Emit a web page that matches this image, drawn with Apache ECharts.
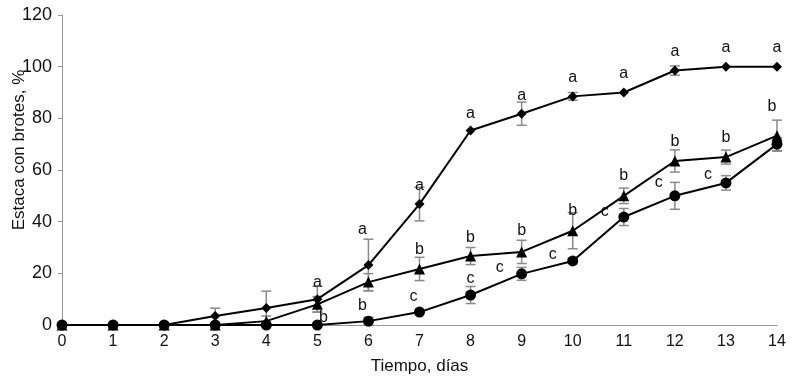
<!DOCTYPE html>
<html><head><meta charset="utf-8">
<script src="https://cdn.jsdelivr.net/npm/echarts@6/dist/echarts.min.js"></script>
<style>html,body{margin:0;padding:0;background:#fff}#c{width:796px;height:379px}</style>
</head><body><div id="c"></div>
<script>
// ---- data ----
var days = [0,1,2,3,4,5,6,7,8,9,10,11,12,13,14];
var diamondVals = [0,0,0,3.5,6.6,10,23.2,46.8,75.3,81.8,88.5,90,98.5,100,100];
var diamondErr  = [0,0,0,3,6.5,5,10,6.5,0,4.5,1.5,0,1.8,0,0];
var diamondLetters = ['','','','','','a','a','a','a','a','a','a','a','a','a'];
var triangleVals = [0,0,0,0,1.5,8,16.6,21.7,26.7,28.3,36.5,50,63.5,65,73.3];
var triangleErr  = [0,0,0,0,2,3,3.3,4.5,3.3,4.5,7,3,4.3,2.7,6];
var triangleLetters = ['','','','','','','','b','b','b','b','b','b','b','b'];
var circleVals = [0,0,0,0,0,0,1.5,5,11.6,19.8,24.8,41.8,50,55,70];
var circleErr  = [0,0,0,0,0,0,1.5,0,3.3,2.5,1,3.3,5.2,2.8,2.5];
var circleLetters = ['','','','','','b','b','c','c','c','c','c','c','c',''];
var yTicks = [0,20,40,60,80,100,120];

// ---- label placement (pixel offsets from point) ----
var diamondOff = [[0,0],[0,0],[0,0],[0,0],[0,0],[0,-17],[-6,-35],[0,-19],[0,-17],[0,-18],[0,-19],[0,-19],[0,-19],[0,-19],[0,-19]];
var triangleOff = [[0,0],[0,0],[0,0],[0,0],[0,0],[0,0],[0,0],[0,-19],[0,-18],[0,-21],[0,-20],[0,-20],[0,-19],[0,-19],[-5,-29]];
var circleOff = [[0,0],[0,0],[0,0],[0,0],[0,0],[6,-7],[-6,-16],[-6,-15],[0,-16],[-22,-6],[-20,-6],[-19,-5],[-16,-13],[-18,-8],[0,0]];

function pts(vals){ return days.map(function(d,i){ return [d, vals[i]]; }); }
function errData(vals, err){
  var out=[]; days.forEach(function(d,i){ if(err[i]>0) out.push([d, vals[i]-err[i], vals[i]+err[i]]); }); return out;
}
function letterData(vals, letters, off){
  var out=[]; days.forEach(function(d,i){ if(letters[i]) out.push([d, vals[i], letters[i], off[i][0], off[i][1]]); }); return out;
}
function errSeries(vals, err){
  return {
    type:'custom', data: errData(vals, err), z: 1, silent:true,
    renderItem: function(params, api){
      var x = api.value(0);
      var lo = api.coord([x, Math.max(0, api.value(1))]);
      var hi = api.coord([x, api.value(2)]);
      var w = 5;
      var st = {stroke:'#8a8a8a', lineWidth:1.5};
      return {type:'group', children:[
        {type:'line', shape:{x1:lo[0],y1:lo[1],x2:hi[0],y2:hi[1]}, style:st},
        {type:'line', shape:{x1:hi[0]-w,y1:hi[1],x2:hi[0]+w,y2:hi[1]}, style:st},
        {type:'line', shape:{x1:lo[0]-w,y1:lo[1],x2:lo[0]+w,y2:lo[1]}, style:st}
      ]};
    }
  };
}
function letterSeries(vals, letters, off){
  return {
    type:'custom', data: letterData(vals, letters, off), z: 5, silent:true,
    renderItem: function(params, api){
      var p = api.coord([api.value(0), api.value(1)]);
      return {type:'text', style:{
        text: api.value(2), x: p[0]+api.value(3), y: p[1]+api.value(4),
        textAlign:'center', textVerticalAlign:'middle',
        font:'16px "Liberation Sans", Arial, sans-serif', fill:'#111'
      }};
    }
  };
}
function lineSeries(vals, sym, size){
  return {type:'line', data: pts(vals), symbol: sym, symbolSize: size, z: 3,
    lineStyle:{color:'#000', width:2}, itemStyle:{color:'#000'}, animation:false};
}

var chart = echarts.init(document.getElementById('c'), null, {renderer:'canvas'});
chart.setOption({
  animation:false,
  textStyle:{fontFamily:'"Liberation Sans", Arial, sans-serif'},
  grid:{left:62, right:19, top:15, bottom:54, containLabel:false, outerBoundsMode:'none'},
  xAxis:{type:'value', min:0, max:14, interval:1,
    name:'Tiempo, días', nameLocation:'middle', nameGap:33,
    nameTextStyle:{fontSize:17, color:'#111'},
    axisLine:{lineStyle:{color:'#999', width:1}}, axisTick:{show:false},
    axisLabel:{fontSize:16, color:'#111', margin:9}, splitLine:{show:false}},
  yAxis:{type:'value', min:yTicks[0], max:yTicks[yTicks.length-1], interval:20,
    name:'Estaca con brotes, %', nameLocation:'middle', nameGap:34, nameMoveOverlap:false,
    nameTextStyle:{fontSize:17, color:'#111', padding:[0,0,0,40]},
    axisLine:{show:true, lineStyle:{color:'#999', width:1}},
    axisTick:{show:true, length:4, lineStyle:{color:'#999'}},
    axisLabel:{fontSize:18, color:'#111', margin:10}, splitLine:{show:false}},
  series:[
    errSeries(diamondVals, diamondErr),
    errSeries(triangleVals, triangleErr),
    errSeries(circleVals, circleErr),
    lineSeries(diamondVals, 'diamond', 10),
    lineSeries(triangleVals, 'triangle', 11),
    lineSeries(circleVals, 'circle', 11),
    letterSeries(diamondVals, diamondLetters, diamondOff),
    letterSeries(triangleVals, triangleLetters, triangleOff),
    letterSeries(circleVals, circleLetters, circleOff)
  ]
});
</script></body></html>
